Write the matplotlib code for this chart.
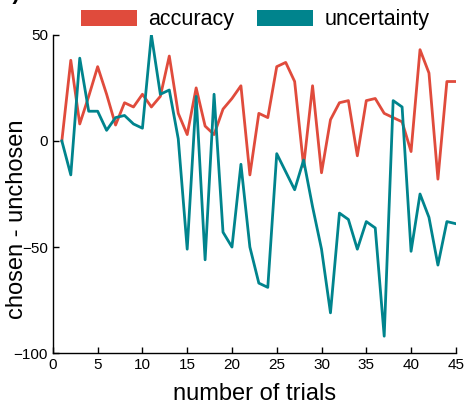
"""Chosen minus unchosen values over trials for accuracy and uncertainty."""

import matplotlib
matplotlib.use("Agg")
import matplotlib.pyplot as plt
from matplotlib.patches import Patch

plt.rcParams["font.family"] = ["Liberation Sans", "DejaVu Sans"]

trials = list(range(1, 46))
accuracy = [0, 38, 8, 21, 35, 22, 7.5, 18, 16, 22,
            16, 21, 40, 13, 3, 25, 7, 3, 15, 20,
            26, -16, 13, 11, 35, 37, 28, -12, 26, -15,
            10, 18, 19, -7, 19, 20, 13, 11, 9, -5,
            43, 32, -18, 28, 28]
uncertainty = [0, -16, 39, 14, 14, 5, 11, 12, 8, 6,
               50, 22, 24, 1, -51, 21, -56, 22, -43, -50,
               -11, -50, -67, -69, -6, -14.5, -23, -9, -31, -51,
               -81, -34, -37, -51, -38, -41, -92, 19, 16, -52,
               -25, -36, -58.5, -38, -39]

red = "#E04B3C"
teal = "#00848D"

fig = plt.figure(figsize=(4.68, 4.05), dpi=100)
ax = fig.add_axes([0.113, 0.128, 0.861, 0.786])
ax.plot(trials, accuracy, color=red, linewidth=2.0)
ax.plot(trials, uncertainty, color=teal, linewidth=2.0)

ax.set_xlim(0, 45)
ax.set_ylim(-100, 50)
ax.set_xticks(range(0, 46, 5))
ax.set_yticks([-100, -50, 0, 50])
ax.tick_params(direction="in", length=4, labelsize=11, width=1)
for side in ("top", "right"):
    ax.spines[side].set_visible(False)
ax.spines["left"].set_linewidth(1.0)
ax.spines["bottom"].set_linewidth(1.0)
ax.set_xlabel("number of trials", fontsize=17, labelpad=8)
ax.set_ylabel("chosen - unchosen", fontsize=17)
ax.yaxis.set_label_coords(-0.062, 0.42)

handles = [Patch(facecolor=red, label="accuracy"), Patch(facecolor=teal, label="uncertainty")]
fig.legend(handles=handles, loc="upper center", bbox_to_anchor=(0.545, 1.025), ncol=2,
           frameon=False, fontsize=15.5, handlelength=2.6, handleheight=0.8,
           columnspacing=1.1, handletextpad=0.5)

fig.text(0.0, 1.015, "b)", fontsize=16, fontweight="bold", va="center", ha="left")

fig.savefig("out.png", dpi=100)
